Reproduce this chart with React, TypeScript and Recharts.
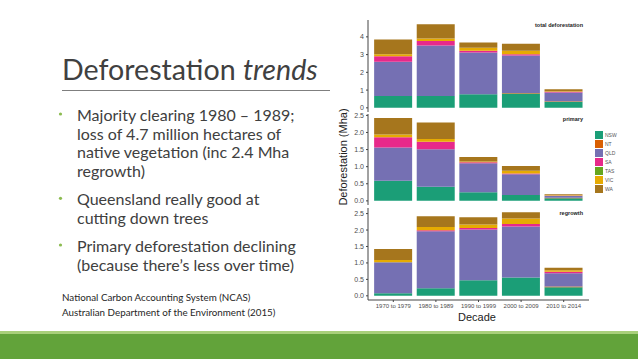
import React from "react";
import { Bar, BarChart, XAxis, YAxis } from "recharts";

const decades = ["1970 to 1979", "1980 to 1989", "1990 to 1999", "2000 to 2009", "2010 to 2014"];
const states = ["NSW", "NT", "QLD", "SA", "TAS", "VIC", "WA"];
const stateColors = ["#1B9E77", "#D95F02", "#7570B3", "#E7298A", "#66A61E", "#E6AB02", "#A6761D"];

// total deforestation (Mha)
const totalNSW = [0.66, 0.66, 0.77, 0.81, 0.34];
const totalNT = [0, 0, 0, 0.02, 0.03];
const totalQLD = [1.93, 2.85, 2.35, 2.12, 0.49];
const totalSA = [0.32, 0.25, 0.09, 0.07, 0.04];
const totalTAS = [0, 0, 0, 0, 0];
const totalVIC = [0.11, 0.15, 0.17, 0.19, 0.04];
const totalWA = [0.83, 0.8, 0.3, 0.4, 0.11];

// primary
const primaryNSW = [0.59, 0.41, 0.25, 0.17, 0.08];
const primaryNT = [0, 0, 0, 0, 0.01];
const primaryQLD = [0.97, 1.1, 0.85, 0.61, 0.06];
const primarySA = [0.3, 0.22, 0.03, 0.02, 0.01];
const primaryTAS = [0, 0, 0, 0, 0];
const primaryVIC = [0.08, 0.08, 0.02, 0.08, 0.01];
const primaryWA = [0.48, 0.48, 0.13, 0.14, 0.02];

// regrowth
const regrowthNSW = [0.08, 0.23, 0.47, 0.56, 0.26];
const regrowthNT = [0, 0, 0, 0, 0.02];
const regrowthQLD = [0.94, 1.73, 1.55, 1.55, 0.41];
const regrowthSA = [0, 0.03, 0.04, 0.07, 0.04];
const regrowthTAS = [0, 0, 0, 0, 0];
const regrowthVIC = [0.07, 0.1, 0.11, 0.17, 0.05];
const regrowthWA = [0.33, 0.33, 0.22, 0.19, 0.07];

const totalTicks = [0, 1, 2, 3, 4];
const halfTicks = [0, 0.5, 1, 1.5, 2, 2.5];

const toRows = (series: number[][]) =>
  decades.map((decade, i) => {
    const row: Record<string, string | number> = { decade };
    states.forEach((s, k) => (row[s] = series[k][i]));
    return row;
  });

const totalRows = toRows([totalNSW, totalNT, totalQLD, totalSA, totalTAS, totalVIC, totalWA]);
const primaryRows = toRows([primaryNSW, primaryNT, primaryQLD, primarySA, primaryTAS, primaryVIC, primaryWA]);
const regrowthRows = toRows([regrowthNSW, regrowthNT, regrowthQLD, regrowthSA, regrowthTAS, regrowthVIC, regrowthWA]);

const axisColor = "#444";
const tickFont = { fontSize: 7, fill: "#4d4d4d", fontFamily: "Liberation Sans, Arial, sans-serif" };

type PanelProps = {
  rows: Record<string, string | number>[];
  top: number;
  plotHeight: number;
  domain: [number, number];
  ticks: number[];
  digits: number;
  showX?: boolean;
  label: string;
};

const Panel = ({ rows, top, plotHeight, domain, ticks, digits, showX, label }: PanelProps) => (
  <div style={{ position: "absolute", left: 340, top: top - 6 }}>
    <BarChart
      width={260}
      height={plotHeight + 6 + (showX ? 16 : 6)}
      data={rows}
      margin={{ top: 6, right: 11, bottom: showX ? 0 : 6, left: 8 }}
      barCategoryGap="5%"
    >
      <XAxis
        dataKey="decade"
        hide={!showX}
        height={16}
        interval={0}
        padding={{ left: 4, right: 4 }}
        tickSize={2}
        tick={{ ...tickFont, fontSize: 6 }}
        axisLine={{ stroke: axisColor }}
        tickLine={{ stroke: axisColor }}
      />
      <YAxis
        width={20}
        type="number"
        domain={domain}
        ticks={ticks}
        allowDataOverflow
        tickFormatter={(v: number) => v.toFixed(digits)}
        tickSize={2}
        tick={tickFont}
        axisLine={{ stroke: axisColor }}
        tickLine={{ stroke: axisColor }}
      />
      {states.map((s, k) => (
        <Bar key={s} dataKey={s} stackId="a" fill={stateColors[k]} isAnimationActive={false} />
      ))}
    </BarChart>
    <div
      style={{
        position: "absolute",
        right: 260 - 243,
        top: 8,
        fontSize: 5.5,
        fontWeight: "bold",
        color: "#222",
        fontFamily: "Liberation Sans, Arial, sans-serif",
        whiteSpace: "nowrap",
      }}
    >
      {label}
    </div>
  </div>
);

const bodyFont = "Lato, 'Open Sans', sans-serif";
const textColor = "#404040";

const bullets = [
  { lines: ["Majority clearing 1980 \u2013 1989;", "loss of 4.7 million hectares of", "native vegetation (inc 2.4 Mha", "regrowth)"], y: 121 },
  { lines: ["Queensland really good at", "cutting down trees"], y: 205.3 },
  { lines: ["Primary deforestation declining", "(because there\u2019s less over time)"], y: 252 },
];

export default function App() {
  return (
    <div
      style={{
        position: "absolute",
        left: 0,
        top: 0,
        width: 638,
        height: 359,
        background: "#fff",
        overflow: "hidden",
      }}
    >
      <svg width={638} height={359} style={{ position: "absolute", left: 0, top: 0 }}>
        <text x={62} y={80} fontFamily={bodyFont} fontSize={28.6} fill={textColor}>
          Deforestation <tspan fontStyle="italic">trends</tspan>
        </text>
        <line x1={62} x2={330} y1={90.5} y2={90.5} stroke="#7f7f7f" strokeWidth={1} />
        {bullets.map((b, i) => (
          <g key={i}>
            <circle cx={60.5} cy={b.y - 7} r={1.6} fill="#8CBB50" />
            {b.lines.map((l, j) => (
              <text key={j} x={77} y={b.y + j * 18.7} fontFamily={bodyFont} fontSize={16} fill={textColor}>
                {l}
              </text>
            ))}
          </g>
        ))}
        <text x={62} y={301} fontFamily={bodyFont} fontSize={9.8} fill="#262626">
          National Carbon Accounting System (NCAS)
        </text>
        <text x={62} y={315.6} fontFamily={bodyFont} fontSize={9.8} fill="#262626">
          Australian Department of the Environment (2015)
        </text>
        <rect x={0} y={331} width={638} height={3} fill="#A8D07A" />
        <rect x={0} y={334} width={638} height={25} fill="#62A33A" />
      </svg>

      <Panel rows={totalRows} top={20} plotHeight={92} domain={[-0.235, 4.95]} ticks={totalTicks} digits={0} label="total deforestation" />
      <Panel rows={primaryRows} top={114} plotHeight={91} domain={[-0.121, 2.54]} ticks={halfTicks} digits={1} label="primary" />
      <Panel rows={regrowthRows} top={208} plotHeight={92} domain={[-0.127, 2.67]} ticks={halfTicks} digits={1} showX label="regrowth" />

      <div
        style={{
          position: "absolute",
          left: 343,
          top: 157,
          transform: "translate(-50%, -50%) rotate(-90deg)",
          fontSize: 11,
          color: "#222",
          fontFamily: "Liberation Sans, Arial, sans-serif",
          whiteSpace: "nowrap",
        }}
      >
        Deforestation (Mha)
      </div>
      <div
        style={{
          position: "absolute",
          left: 477,
          top: 317,
          transform: "translate(-50%, -50%)",
          fontSize: 11,
          color: "#222",
          fontFamily: "Liberation Sans, Arial, sans-serif",
        }}
      >
        Decade
      </div>

      <div style={{ position: "absolute", left: 595, top: 131, fontFamily: "Liberation Sans, Arial, sans-serif" }}>
        {states.map((s, k) => (
          <div key={s} style={{ display: "flex", alignItems: "center", height: 8.9 }}>
            <div style={{ width: 8, height: 8, background: stateColors[k] }} />
            <span style={{ fontSize: 5, color: "#555", marginLeft: 2 }}>{s}</span>
          </div>
        ))}
      </div>
    </div>
  );
}
